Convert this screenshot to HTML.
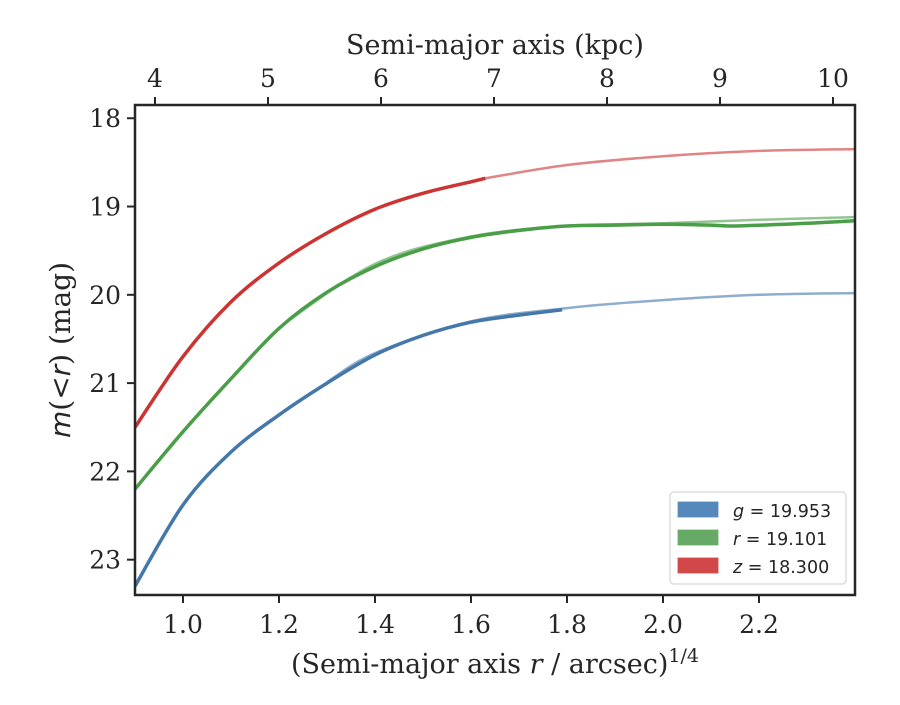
<!DOCTYPE html>
<html><head><meta charset="utf-8"><style>
body{margin:0;background:#fff}
svg text{font-family:"DejaVu Serif","Liberation Serif",serif;fill:#262626}
</style></head><body>
<svg id="c" width="900" height="700" viewBox="0 0 900 700">
<g id="plot"></g>
</svg>
<script>
const xTicks=[1.0,1.2,1.4,1.6,1.8,2.0,2.2];
const yTicks=[18,19,20,21,22,23];
const kpcTicks=[4,5,6,7,8,9,10];
const gX=[0.9,1.0,1.1,1.2,1.3,1.4,1.5,1.6,1.7,1.79];
const gY=[23.3,22.38,21.78,21.36,21.0,20.68,20.46,20.31,20.23,20.17];
const gFitX=[1.3,1.4,1.6,1.8,2.0,2.2,2.4];
const gFitY=[20.99,20.66,20.3,20.15,20.06,20.0,19.98];
const rX=[0.9,1.0,1.1,1.2,1.3,1.4,1.5,1.6,1.7,1.8,1.9,2.0,2.1,2.15,2.3,2.4];
const rY=[22.2,21.55,20.95,20.38,19.97,19.68,19.48,19.35,19.27,19.22,19.21,19.2,19.21,19.22,19.19,19.16];
const rFitX=[1.2,1.4,1.6,1.8,2.0,2.2,2.4];
const rFitY=[20.37,19.65,19.34,19.22,19.19,19.15,19.12];
const zX=[0.9,1.0,1.1,1.2,1.3,1.4,1.5,1.6,1.63];
const zY=[21.5,20.7,20.08,19.64,19.3,19.03,18.85,18.72,18.68];
const zFitX=[1.63,1.8,2.0,2.2,2.4];
const zFitY=[18.68,18.53,18.43,18.37,18.35];
const legendLabels=["g = 19.953","r = 19.101","z = 18.300"];

const L=135,R=855,T=105,B=595;
const x0=0.9,x1=2.4,y0=17.85,y1=23.4;
const sx=v=>L+(v-x0)/(x1-x0)*(R-L);
const sy=v=>T+(v-y0)/(y1-y0)*(B-T);
const sk=v=>155+(v-4)*113;
const NS="http://www.w3.org/2000/svg";
const svg=document.getElementById('c');
function mk(t,a,p){const e=document.createElementNS(NS,t);for(const k in a)e.setAttribute(k,a[k]);(p||svg).appendChild(e);return e;}
const plot=document.getElementById('plot');
function line(xs,ys,col,w,op,name){
  const P=xs.map((v,i)=>[sx(v),sy(ys[i])]);
  let d='M'+P[0][0].toFixed(1)+','+P[0][1].toFixed(1);
  for(let i=0;i<P.length-1;i++){
    const p0=P[Math.max(0,i-1)],p1=P[i],p2=P[i+1],p3=P[Math.min(P.length-1,i+2)];
    const c1=[p1[0]+(p2[0]-p0[0])/6,p1[1]+(p2[1]-p0[1])/6];
    const c2=[p2[0]-(p3[0]-p1[0])/6,p2[1]-(p3[1]-p1[1])/6];
    d+='C'+c1.map(n=>n.toFixed(1)).join(',')+' '+c2.map(n=>n.toFixed(1)).join(',')+' '+p2.map(n=>n.toFixed(1)).join(',');
  }
  const p=mk('path',{d:d,fill:'none',stroke:col,'stroke-width':w,'stroke-opacity':op,'stroke-linejoin':'round'},plot);
  
  
}
const defs=mk('defs',{});
const cp=mk('clipPath',{id:'clip'},defs);mk('rect',{x:L,y:T,width:R-L,height:B-T},cp);
plot.setAttribute('clip-path','url(#clip)');
line(gFitX,gFitY,'#4477aa',2.5,0.6,'g-fit-line');
line(gX,gY,'#4477aa',3.5,1,'g-band-line');
line(rFitX,rFitY,'#4a9e48',2.5,0.6,'r-fit-line');
line(rX,rY,'#4a9e48',3.5,1,'r-band-line');
line(zFitX,zFitY,'#cc3333',2.5,0.6,'z-fit-line');
line(zX,zY,'#cc3333',3.5,1,'z-band-line');
const fr=mk('rect',{x:L,y:T,width:R-L,height:B-T,fill:'none',stroke:'#262626','stroke-width':2.5});

xTicks.forEach(v=>{const x=sx(v);mk('line',{x1:x,x2:x,y1:B,y2:B+8,stroke:'#262626','stroke-width':2});
 const t=mk('text',{x:x,y:B+38,'text-anchor':'middle','font-size':25});t.textContent=v.toFixed(1);
 });
yTicks.forEach(v=>{const y=sy(v);mk('line',{x1:L-8,x2:L,y1:y,y2:y,stroke:'#262626','stroke-width':2});
 const t=mk('text',{x:L-14,y:y+9,'text-anchor':'end','font-size':25});t.textContent=v;
 });
kpcTicks.forEach(v=>{const x=sk(v);mk('line',{x1:x,x2:x,y1:T-8,y2:T,stroke:'#262626','stroke-width':2});
 const t=mk('text',{x:x,y:T-18,'text-anchor':'middle','font-size':25});t.textContent=v;
 });
const lg=mk('g',{});
mk('rect',{x:670,y:492,width:176,height:92,rx:4,fill:'#fff',stroke:'#ddd','stroke-width':1.5},lg);
const cols=['#5588bb','#66aa66','#d04848'];
legendLabels.forEach((s,i)=>{const y=502+i*28;
 mk('rect',{x:678,y:y,width:40,height:15,fill:cols[i],stroke:cols[i],'stroke-opacity':0.8},lg);
 const parts=s.split(' = ');
 const t=mk('text',{x:733,y:y+15,'font-size':17.5,style:'font-family:"DejaVu Sans","Liberation Sans",sans-serif'},lg);
 const a=mk('tspan',{'font-style':'italic'},t);a.textContent=parts[0];
 const b=mk('tspan',{},t);b.textContent=' = '+parts[1];
 });
</script>
<svg style="position:absolute;left:0;top:0" width="900" height="700">
<text x="495" y="54" text-anchor="middle" font-size="27">Semi-major axis (kpc)</text>
<text x="495" y="673" text-anchor="middle" font-size="27">(Semi-major axis <tspan font-style="italic">r</tspan> / arcsec)<tspan dy="-11" font-size="19">1/4</tspan></text>
<text transform="translate(70,350) rotate(-90)" text-anchor="middle" font-size="28"><tspan font-style="italic" style="font-family:'DejaVu Sans',sans-serif">m</tspan>(&lt;<tspan font-style="italic" style="font-family:'DejaVu Sans',sans-serif">r</tspan>) (mag)</text>
</svg>
</body></html>
